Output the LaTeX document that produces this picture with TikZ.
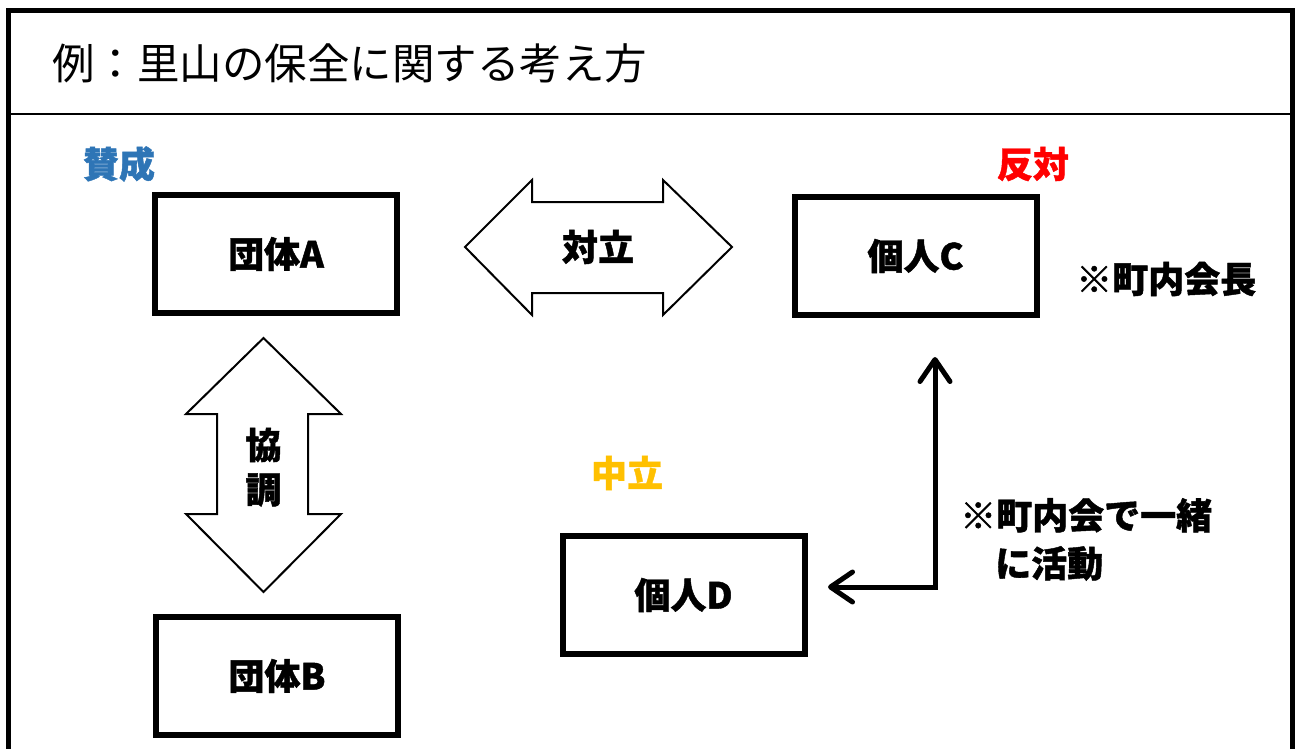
\documentclass[tikz,border=0pt]{standalone}
\usepackage{fontspec}
\newfontfamily\jp{Noto Sans CJK JP}[BoldFeatures={FakeBold=1.2}]
\usetikzlibrary{arrows.meta}
\definecolor{agree}{HTML}{2E75B6}
\definecolor{oppose}{HTML}{FF0000}
\definecolor{neutral}{HTML}{FFC000}
\tikzset{
  box/.style={draw, line width=6pt, minimum width=242pt, minimum height=118pt,
    font=\jp\bfseries\fontsize{36}{40}\selectfont, inner sep=0pt},
  lbl/.style={font=\jp\bfseries\fontsize{36}{40}\selectfont, inner sep=0pt},
  darrow/.style={draw, line width=2pt, line join=miter, fill=white},
  conn/.style={line width=5pt, line join=miter,
    {Straight Barb[length=22pt,width=30pt,round]}-{Straight Barb[length=22pt,width=30pt,round]}},
}
\begin{document}
\begin{tikzpicture}[x=1pt,y=-1pt]
\useasboundingbox (0,0) rectangle (1295,749);
% frame
\draw[line width=5pt] (8,749) -- (8,10.5) -- (1292.5,10.5) -- (1292.5,749);
\draw[line width=2pt] (8,114) -- (1292.5,114);
\node[anchor=west, inner sep=0pt, font=\jp\fontsize{42.5}{48}\selectfont] (title) at (52,63) {例：里山の保全に関する考え方};
% labels
\node[lbl, text=agree] (agree) at (119,164) {賛成};
\node[lbl, text=oppose] (oppose) at (1033,164) {反対};
\node[lbl, text=neutral] (neutral) at (627,473) {中立};
% boxes
\node[box] (A) at (276,254) {団体A};
\node[box] (B) at (277,676) {団体B};
\node[box] (C) at (915.5,256) {個人C};
\node[box] (D) at (683.5,595) {個人D};
% double arrow: 対立
\draw[darrow] (465,247) -- (532,180) -- (532,202) -- (663,202) -- (663,180) -- (732,247)
  -- (663,315) -- (663,293) -- (532,293) -- (532,315) -- cycle;
\node[lbl] (conflict) at (598,247) {対立};
% double arrow: 協調
\draw[darrow] (263.5,338) -- (341,414) -- (308,414) -- (308,514) -- (341,514) -- (263.5,592)
  -- (186,514) -- (217,514) -- (217,414) -- (186,414) -- cycle;
\node[lbl] (coop1) at (263.5,445) {協};
\node[lbl] (coop2) at (263.5,490) {調};
% notes
\node[lbl, anchor=west] (note1) at (1076,279) {※町内会長};
\node[lbl, anchor=north west, align=left, font=\jp\bfseries\fontsize{36}{48}\selectfont] (note2) at (960,498) {※町内会で一緒\\\hspace*{35pt}に活動};
% connector D <-> C
\coordinate (tipD) at (828,587);
\coordinate (bend) at (935,587);
\coordinate (tipC) at (935,357);
\draw[conn] (tipD) -- (bend) -- (tipC);
\end{tikzpicture}
\end{document}
